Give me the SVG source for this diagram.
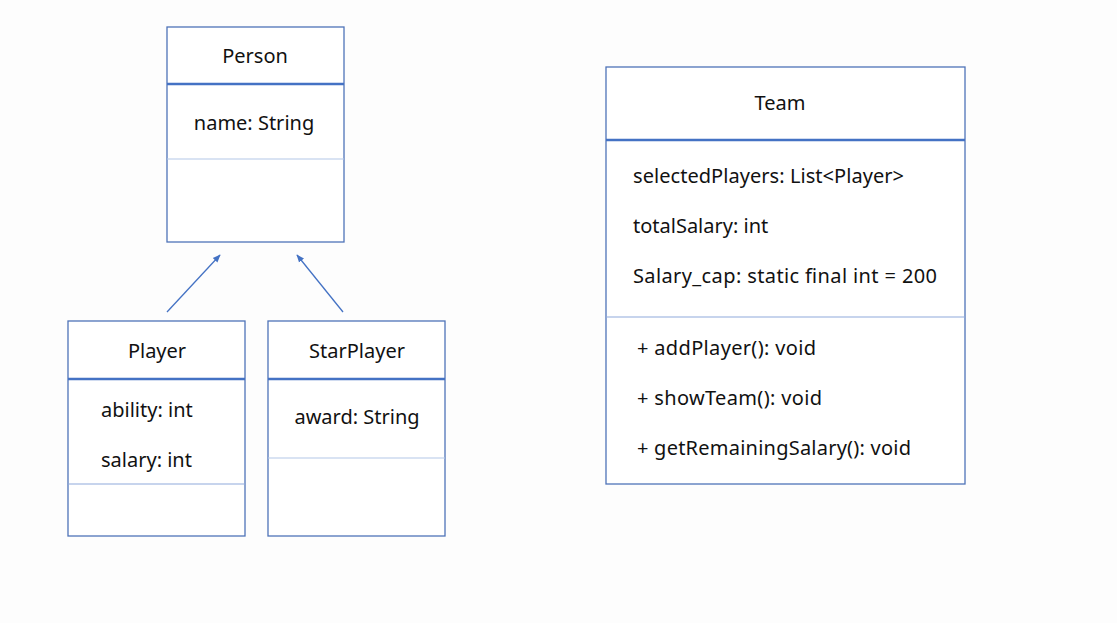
<svg xmlns="http://www.w3.org/2000/svg" width="1117" height="623" viewBox="0 0 1117 623">
<style>
.box{fill:#ffffff;stroke:#4f73b8;stroke-width:1.3}
.hdr{stroke:#4472c4;stroke-width:2.5}
.div{stroke:#b4c7e7;stroke-width:1.2}
.div2{stroke:#8faadc;stroke-width:1.2}
text{font-family:"Noto Sans","Open Sans",sans-serif;font-size:20px;fill:#111111}
.c{text-anchor:middle}
.conn{stroke:#4472c4;stroke-width:1.3;fill:none}
</style>
<defs>
<marker id="ah" viewBox="0 0 10 10" refX="9" refY="5" markerWidth="8" markerHeight="8" orient="auto" markerUnits="userSpaceOnUse">
<path d="M0,1 L10,5 L0,9 z" fill="#4472c4"/>
</marker>
</defs>
<rect width="1117" height="623" fill="#fdfdfd"/>
<g id="connectors">
<line class="conn" x1="167" y1="312" x2="220" y2="255" marker-end="url(#ah)"/>
<line class="conn" x1="343" y1="312" x2="297" y2="255" marker-end="url(#ah)"/>
</g>
<g id="person">
<rect class="box" x="167" y="27" width="177" height="215"/>
<line class="hdr" x1="167" y1="84" x2="344" y2="84"/>
<line class="div" x1="167" y1="159" x2="344" y2="159"/>
<text class="c" x="255" y="63">Person</text>
<text class="c" x="254" y="130">name: String</text>
</g>
<g id="player">
<rect class="box" x="68" y="321" width="177" height="215"/>
<line class="hdr" x1="68" y1="379" x2="245" y2="379"/>
<line class="div2" x1="68" y1="484" x2="245" y2="484"/>
<text class="c" x="157" y="358">Player</text>
<text x="101" y="417">ability: int</text>
<text x="101" y="467">salary: int</text>
</g>
<g id="starplayer">
<rect class="box" x="268" y="321" width="177" height="215"/>
<line class="hdr" x1="268" y1="379" x2="445" y2="379"/>
<line class="div" x1="268" y1="458" x2="445" y2="458"/>
<text class="c" x="357" y="358">StarPlayer</text>
<text class="c" x="357" y="424">award: String</text>
</g>
<g id="team">
<rect class="box" x="606" y="67" width="359" height="417"/>
<line class="hdr" x1="606" y1="140" x2="965" y2="140"/>
<line class="div2" x1="606" y1="317" x2="965" y2="317"/>
<text class="c" x="780" y="110">Team</text>
<text x="633" y="183" textLength="271" lengthAdjust="spacing">selectedPlayers: List&lt;Player&gt;</text>
<text x="633" y="233">totalSalary: int</text>
<text x="633" y="283" textLength="304" lengthAdjust="spacing">Salary_cap: static final int = 200</text>
<text x="637" y="355" textLength="179" lengthAdjust="spacing">+ addPlayer(): void</text>
<text x="637" y="405" textLength="185" lengthAdjust="spacing">+ showTeam(): void</text>
<text x="637" y="455" textLength="274" lengthAdjust="spacing">+ getRemainingSalary(): void</text>
</g>
</svg>
